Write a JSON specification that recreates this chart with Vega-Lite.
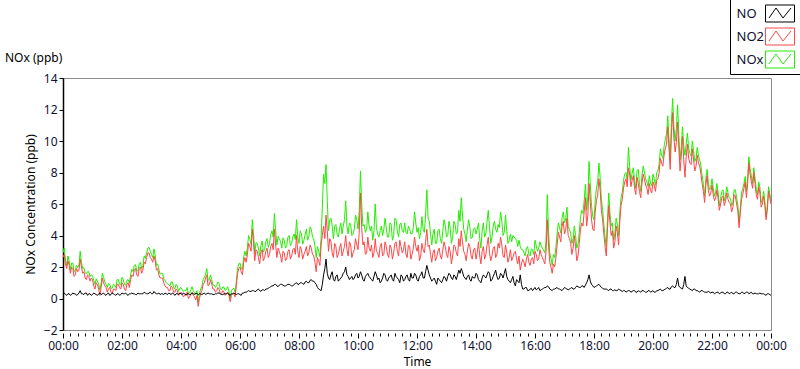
{
  "$schema": "https://vega.github.io/schema/vega-lite/v6.json",
  "width": 708,
  "height": 252,
  "autosize": "none",
  "padding": {"left": 63, "top": 78, "right": 29, "bottom": 39},
  "background": "white",
  "config": {"view": {"stroke": "#8c8c8c"}, "font": "Noto Sans"},
  "title": {"text": "NOx (ppb)", "anchor": "start", "frame": "group", "dx": -58, "offset": -66, "fontSize": 12, "fontWeight": "normal", "color": "#000000", "font": "Noto Sans"},
  "data": {"values": [
    {"m":0,"NO":0.3,"NO2":2.6,"NOx":2.9},{"m":5,"NO":0.25,"NO2":2.2,"NOx":2.45},{"m":10,"NO":0.3,"NO2":2.4,"NOx":2.7},{"m":15,"NO":0.2,"NO2":1.6,"NOx":1.8},
    {"m":20,"NO":0.35,"NO2":1.9,"NOx":2.25},{"m":25,"NO":0.3,"NO2":1.5,"NOx":1.8},{"m":30,"NO":0.25,"NO2":1.7,"NOx":1.95},{"m":35,"NO":0.5,"NO2":2.5,"NOx":3.0},
    {"m":40,"NO":0.3,"NO2":1.6,"NOx":1.9},{"m":45,"NO":0.35,"NO2":1.3,"NOx":1.65},{"m":50,"NO":0.2,"NO2":1.5,"NOx":1.7},{"m":55,"NO":0.3,"NO2":1.1,"NOx":1.4},
    {"m":60,"NO":0.25,"NO2":1.2,"NOx":1.45},{"m":65,"NO":0.3,"NO2":0.6,"NOx":0.9},{"m":70,"NO":0.2,"NO2":0.9,"NOx":1.1},{"m":75,"NO":0.35,"NO2":0.2,"NOx":0.55},
    {"m":80,"NO":0.3,"NO2":1.3,"NOx":1.6},{"m":85,"NO":0.25,"NO2":0.8,"NOx":1.05},{"m":90,"NO":0.3,"NO2":0.4,"NOx":0.7},{"m":95,"NO":0.2,"NO2":0.7,"NOx":0.9},
    {"m":100,"NO":0.35,"NO2":0.3,"NOx":0.65},{"m":105,"NO":0.25,"NO2":0.6,"NOx":0.85},{"m":110,"NO":0.3,"NO2":0.9,"NOx":1.2},{"m":115,"NO":0.2,"NO2":0.7,"NOx":0.9},
    {"m":120,"NO":0.35,"NO2":1.0,"NOx":1.35},{"m":125,"NO":0.3,"NO2":0.6,"NOx":0.9},{"m":130,"NO":0.25,"NO2":0.9,"NOx":1.15},{"m":135,"NO":0.3,"NO2":0.7,"NOx":1.0},
    {"m":140,"NO":0.35,"NO2":1.5,"NOx":1.85},{"m":145,"NO":0.3,"NO2":1.8,"NOx":2.1},{"m":150,"NO":0.25,"NO2":1.5,"NOx":1.75},{"m":155,"NO":0.3,"NO2":1.9,"NOx":2.2},
    {"m":160,"NO":0.3,"NO2":1.6,"NOx":1.9},{"m":165,"NO":0.4,"NO2":2.3,"NOx":2.7},{"m":170,"NO":0.3,"NO2":2.6,"NOx":2.9},{"m":175,"NO":0.35,"NO2":2.9,"NOx":3.25},
    {"m":180,"NO":0.3,"NO2":2.5,"NOx":2.8},{"m":185,"NO":0.45,"NO2":2.7,"NOx":3.15},{"m":190,"NO":0.3,"NO2":1.8,"NOx":2.1},{"m":195,"NO":0.35,"NO2":1.5,"NOx":1.85},
    {"m":200,"NO":0.3,"NO2":1.3,"NOx":1.6},{"m":205,"NO":0.25,"NO2":1.0,"NOx":1.25},{"m":210,"NO":0.3,"NO2":0.7,"NOx":1.0},{"m":215,"NO":0.35,"NO2":0.5,"NOx":0.85},
    {"m":220,"NO":0.25,"NO2":0.8,"NOx":1.05},{"m":225,"NO":0.3,"NO2":0.4,"NOx":0.7},{"m":230,"NO":0.3,"NO2":0.6,"NOx":0.9},{"m":235,"NO":0.25,"NO2":0.2,"NOx":0.45},
    {"m":240,"NO":0.3,"NO2":0.4,"NOx":0.7},{"m":245,"NO":0.35,"NO2":0.1,"NOx":0.45},{"m":250,"NO":0.2,"NO2":0.3,"NOx":0.5},{"m":255,"NO":0.3,"NO2":0.0,"NOx":0.3},
    {"m":260,"NO":0.25,"NO2":0.3,"NOx":0.55},{"m":265,"NO":0.3,"NO2":0.2,"NOx":0.5},{"m":270,"NO":0.35,"NO2":-0.1,"NOx":0.25},{"m":275,"NO":0.25,"NO2":-0.5,"NOx":-0.25},
    {"m":280,"NO":0.3,"NO2":0.3,"NOx":0.6},{"m":285,"NO":0.3,"NO2":0.9,"NOx":1.2},{"m":290,"NO":0.25,"NO2":1.3,"NOx":1.55},{"m":295,"NO":0.35,"NO2":0.8,"NOx":1.15},
    {"m":300,"NO":0.3,"NO2":1.2,"NOx":1.5},{"m":305,"NO":0.25,"NO2":0.6,"NOx":0.85},{"m":310,"NO":0.3,"NO2":0.4,"NOx":0.7},{"m":315,"NO":0.35,"NO2":0.7,"NOx":1.05},
    {"m":320,"NO":0.3,"NO2":0.3,"NOx":0.6},{"m":325,"NO":0.25,"NO2":0.5,"NOx":0.75},{"m":330,"NO":0.3,"NO2":0.2,"NOx":0.5},{"m":335,"NO":0.35,"NO2":0.4,"NOx":0.75},
    {"m":340,"NO":0.2,"NO2":-0.2,"NOx":0.0},{"m":345,"NO":0.3,"NO2":0.3,"NOx":0.6},{"m":350,"NO":0.3,"NO2":0.1,"NOx":0.4},{"m":355,"NO":0.3,"NO2":1.6,"NOx":1.9},
    {"m":360,"NO":0.25,"NO2":2.0,"NOx":2.25},{"m":365,"NO":0.35,"NO2":1.5,"NOx":1.85},{"m":370,"NO":0.4,"NO2":2.6,"NOx":3.0},{"m":375,"NO":0.45,"NO2":2.8,"NOx":3.25},
    {"m":380,"NO":0.45,"NO2":3.3,"NOx":3.75},{"m":385,"NO":0.5,"NO2":4.4,"NOx":5.0},{"m":390,"NO":0.45,"NO2":2.4,"NOx":2.85},{"m":395,"NO":0.55,"NO2":3.0,"NOx":3.5},
    {"m":400,"NO":0.5,"NO2":2.2,"NOx":2.7},{"m":405,"NO":0.55,"NO2":3.1,"NOx":3.65},{"m":410,"NO":0.5,"NO2":2.6,"NOx":3.1},{"m":415,"NO":0.6,"NO2":3.2,"NOx":3.8},
    {"m":420,"NO":0.7,"NO2":2.8,"NOx":3.5},{"m":425,"NO":0.8,"NO2":3.5,"NOx":4.3},{"m":430,"NO":0.9,"NO2":4.4,"NOx":5.4},{"m":435,"NO":0.8,"NO2":2.6,"NOx":3.4},
    {"m":440,"NO":0.85,"NO2":3.0,"NOx":3.8},{"m":445,"NO":0.9,"NO2":2.3,"NOx":3.2},{"m":450,"NO":0.8,"NO2":2.9,"NOx":3.7},{"m":455,"NO":0.85,"NO2":2.5,"NOx":3.35},
    {"m":460,"NO":0.9,"NO2":3.1,"NOx":4.0},{"m":465,"NO":0.8,"NO2":2.7,"NOx":3.5},{"m":470,"NO":0.9,"NO2":3.2,"NOx":4.1},{"m":475,"NO":1.0,"NO2":4.0,"NOx":5.0},
    {"m":480,"NO":0.9,"NO2":2.6,"NOx":3.5},{"m":485,"NO":1.0,"NO2":3.1,"NOx":4.1},{"m":490,"NO":0.9,"NO2":2.8,"NOx":3.7},{"m":495,"NO":1.1,"NO2":3.3,"NOx":4.4},
    {"m":500,"NO":1.0,"NO2":2.9,"NOx":3.9},{"m":505,"NO":1.2,"NO2":3.2,"NOx":4.4},{"m":510,"NO":1.1,"NO2":2.7,"NOx":3.8},{"m":515,"NO":0.9,"NO2":1.7,"NOx":2.6},
    {"m":520,"NO":0.6,"NO2":2.4,"NOx":3.0},{"m":525,"NO":0.5,"NO2":3.4,"NOx":3.9},{"m":530,"NO":1.5,"NO2":4.6,"NOx":7.9},{"m":535,"NO":2.5,"NO2":5.3,"NOx":8.5},
    {"m":540,"NO":1.3,"NO2":3.0,"NOx":4.3},{"m":545,"NO":1.5,"NO2":3.6,"NOx":5.1},{"m":550,"NO":1.2,"NO2":2.6,"NOx":3.8},{"m":555,"NO":1.4,"NO2":3.3,"NOx":4.7},
    {"m":560,"NO":1.1,"NO2":2.8,"NOx":3.9},{"m":565,"NO":1.3,"NO2":3.5,"NOx":4.8},{"m":570,"NO":1.6,"NO2":3.0,"NOx":4.6},{"m":575,"NO":2.0,"NO2":4.0,"NOx":6.2},
    {"m":580,"NO":1.4,"NO2":2.7,"NOx":4.1},{"m":585,"NO":1.3,"NO2":3.4,"NOx":4.7},{"m":590,"NO":1.2,"NO2":2.9,"NOx":4.1},{"m":595,"NO":1.5,"NO2":3.8,"NOx":5.3},
    {"m":600,"NO":1.3,"NO2":3.1,"NOx":4.4},{"m":605,"NO":1.7,"NO2":6.7,"NOx":8.1},{"m":610,"NO":1.2,"NO2":3.4,"NOx":4.6},{"m":615,"NO":1.4,"NO2":2.8,"NOx":4.2},
    {"m":620,"NO":1.6,"NO2":3.9,"NOx":5.5},{"m":625,"NO":1.3,"NO2":3.0,"NOx":4.3},{"m":630,"NO":1.1,"NO2":2.6,"NOx":3.7},{"m":635,"NO":1.7,"NO2":3.8,"NOx":6.0},
    {"m":640,"NO":1.2,"NO2":2.9,"NOx":4.1},{"m":645,"NO":1.0,"NO2":3.3,"NOx":4.3},{"m":650,"NO":1.3,"NO2":2.7,"NOx":4.0},{"m":655,"NO":1.5,"NO2":3.6,"NOx":5.1},
    {"m":660,"NO":1.1,"NO2":2.8,"NOx":3.9},{"m":665,"NO":1.4,"NO2":3.4,"NOx":4.8},{"m":670,"NO":1.2,"NO2":2.5,"NOx":3.7},{"m":675,"NO":1.6,"NO2":3.5,"NOx":5.1},
    {"m":680,"NO":1.3,"NO2":3.0,"NOx":4.3},{"m":685,"NO":1.0,"NO2":3.7,"NOx":4.7},{"m":690,"NO":1.4,"NO2":2.9,"NOx":4.3},{"m":695,"NO":1.2,"NO2":3.6,"NOx":4.8},
    {"m":700,"NO":1.5,"NO2":2.6,"NOx":4.1},{"m":705,"NO":1.1,"NO2":3.3,"NOx":4.4},{"m":710,"NO":1.3,"NO2":2.8,"NOx":4.1},{"m":715,"NO":1.6,"NO2":3.9,"NOx":5.5},
    {"m":720,"NO":1.2,"NO2":3.0,"NOx":4.2},{"m":725,"NO":1.4,"NO2":2.4,"NOx":3.8},{"m":730,"NO":1.7,"NO2":3.5,"NOx":5.2},{"m":735,"NO":1.3,"NO2":2.9,"NOx":4.2},
    {"m":740,"NO":2.1,"NO2":4.4,"NOx":6.9},{"m":745,"NO":1.5,"NO2":3.4,"NOx":4.9},{"m":750,"NO":1.1,"NO2":2.3,"NOx":3.4},{"m":755,"NO":1.3,"NO2":3.1,"NOx":4.4},
    {"m":760,"NO":0.9,"NO2":2.6,"NOx":3.5},{"m":765,"NO":1.2,"NO2":3.2,"NOx":4.4},{"m":770,"NO":1.0,"NO2":2.5,"NOx":3.5},{"m":775,"NO":1.4,"NO2":3.6,"NOx":5.0},
    {"m":780,"NO":1.1,"NO2":2.8,"NOx":3.9},{"m":785,"NO":1.6,"NO2":3.3,"NOx":4.9},{"m":790,"NO":1.3,"NO2":2.2,"NOx":3.5},{"m":795,"NO":1.5,"NO2":3.4,"NOx":4.9},
    {"m":800,"NO":1.2,"NO2":2.9,"NOx":4.1},{"m":805,"NO":1.8,"NO2":3.8,"NOx":5.6},{"m":810,"NO":1.9,"NO2":4.3,"NOx":6.4},{"m":815,"NO":1.4,"NO2":3.0,"NOx":4.4},
    {"m":820,"NO":1.2,"NO2":2.4,"NOx":3.6},{"m":825,"NO":1.5,"NO2":3.5,"NOx":5.0},{"m":830,"NO":1.1,"NO2":2.7,"NOx":3.8},{"m":835,"NO":1.3,"NO2":3.1,"NOx":4.4},
    {"m":840,"NO":1.6,"NO2":2.5,"NOx":4.1},{"m":845,"NO":1.2,"NO2":3.6,"NOx":4.8},{"m":850,"NO":1.0,"NO2":2.2,"NOx":3.2},{"m":855,"NO":1.5,"NO2":3.3,"NOx":4.8},
    {"m":860,"NO":1.3,"NO2":2.8,"NOx":4.1},{"m":865,"NO":1.7,"NO2":3.9,"NOx":5.6},{"m":870,"NO":1.1,"NO2":2.4,"NOx":3.5},{"m":875,"NO":1.4,"NO2":3.2,"NOx":4.6},
    {"m":880,"NO":1.8,"NO2":2.6,"NOx":4.4},{"m":885,"NO":1.2,"NO2":3.5,"NOx":4.7},{"m":890,"NO":1.6,"NO2":3.9,"NOx":5.5},{"m":895,"NO":1.3,"NO2":2.7,"NOx":4.0},
    {"m":900,"NO":1.9,"NO2":3.4,"NOx":5.3},{"m":905,"NO":1.2,"NO2":2.3,"NOx":3.5},{"m":910,"NO":1.0,"NO2":3.1,"NOx":4.1},{"m":915,"NO":1.4,"NO2":2.6,"NOx":4.0},
    {"m":920,"NO":0.8,"NO2":3.0,"NOx":3.8},{"m":925,"NO":1.1,"NO2":2.2,"NOx":3.3},{"m":930,"NO":1.5,"NO2":1.8,"NOx":3.3},{"m":935,"NO":0.6,"NO2":2.5,"NOx":3.1},
    {"m":940,"NO":0.7,"NO2":2.0,"NOx":2.7},{"m":945,"NO":0.5,"NO2":2.8,"NOx":3.3},{"m":950,"NO":0.6,"NO2":2.1,"NOx":2.7},{"m":955,"NO":0.5,"NO2":2.6,"NOx":3.1},
    {"m":960,"NO":0.7,"NO2":3.0,"NOx":3.7},{"m":965,"NO":0.6,"NO2":2.4,"NOx":3.0},{"m":970,"NO":0.5,"NO2":3.1,"NOx":3.6},{"m":975,"NO":0.6,"NO2":2.6,"NOx":3.2},
    {"m":980,"NO":0.7,"NO2":2.2,"NOx":2.9},{"m":985,"NO":0.8,"NO2":5.0,"NOx":6.6},{"m":990,"NO":0.6,"NO2":2.3,"NOx":2.9},{"m":995,"NO":0.5,"NO2":1.6,"NOx":2.1},
    {"m":1000,"NO":0.6,"NO2":2.0,"NOx":2.6},{"m":1005,"NO":0.7,"NO2":3.4,"NOx":4.1},{"m":1010,"NO":0.6,"NO2":3.9,"NOx":4.5},{"m":1015,"NO":0.5,"NO2":4.6,"NOx":5.1},
    {"m":1020,"NO":0.7,"NO2":4.1,"NOx":4.8},{"m":1025,"NO":0.6,"NO2":5.1,"NOx":5.8},{"m":1030,"NO":0.6,"NO2":3.8,"NOx":4.4},{"m":1035,"NO":0.7,"NO2":2.8,"NOx":3.5},
    {"m":1040,"NO":0.6,"NO2":4.0,"NOx":4.6},{"m":1045,"NO":0.8,"NO2":2.4,"NOx":3.2},{"m":1050,"NO":0.7,"NO2":3.5,"NOx":4.2},{"m":1055,"NO":0.8,"NO2":4.8,"NOx":5.6},
    {"m":1060,"NO":0.7,"NO2":5.5,"NOx":6.2},{"m":1065,"NO":1.0,"NO2":4.6,"NOx":5.6},{"m":1070,"NO":1.5,"NO2":7.3,"NOx":8.7},{"m":1075,"NO":0.9,"NO2":5.0,"NOx":5.9},
    {"m":1080,"NO":0.7,"NO2":4.3,"NOx":5.0},{"m":1085,"NO":0.8,"NO2":6.2,"NOx":7.0},{"m":1090,"NO":0.9,"NO2":7.6,"NOx":8.6},{"m":1095,"NO":0.7,"NO2":5.6,"NOx":6.3},
    {"m":1100,"NO":0.6,"NO2":4.1,"NOx":4.7},{"m":1105,"NO":0.6,"NO2":2.7,"NOx":3.3},{"m":1110,"NO":0.5,"NO2":5.9,"NOx":6.7},{"m":1115,"NO":0.6,"NO2":4.0,"NOx":4.6},
    {"m":1120,"NO":0.5,"NO2":3.2,"NOx":3.7},{"m":1125,"NO":0.5,"NO2":4.6,"NOx":5.1},{"m":1130,"NO":0.6,"NO2":3.4,"NOx":4.0},{"m":1135,"NO":0.5,"NO2":5.9,"NOx":6.4},
    {"m":1140,"NO":0.5,"NO2":7.0,"NOx":7.5},{"m":1145,"NO":0.4,"NO2":7.6,"NOx":8.0},{"m":1150,"NO":0.5,"NO2":8.3,"NOx":9.6},{"m":1155,"NO":0.4,"NO2":7.1,"NOx":7.5},
    {"m":1160,"NO":0.5,"NO2":7.8,"NOx":8.3},{"m":1165,"NO":0.4,"NO2":6.6,"NOx":7.0},{"m":1170,"NO":0.5,"NO2":7.3,"NOx":8.2},{"m":1175,"NO":0.4,"NO2":6.4,"NOx":6.8},
    {"m":1180,"NO":0.5,"NO2":7.9,"NOx":8.4},{"m":1185,"NO":0.4,"NO2":7.2,"NOx":7.6},{"m":1190,"NO":0.5,"NO2":6.6,"NOx":7.1},{"m":1195,"NO":0.4,"NO2":6.9,"NOx":7.3},
    {"m":1200,"NO":0.5,"NO2":7.4,"NOx":7.9},{"m":1205,"NO":0.4,"NO2":6.8,"NOx":7.2},{"m":1210,"NO":0.5,"NO2":7.6,"NOx":8.1},{"m":1215,"NO":0.6,"NO2":8.9,"NOx":9.5},
    {"m":1220,"NO":0.5,"NO2":8.4,"NOx":8.9},{"m":1225,"NO":0.6,"NO2":9.5,"NOx":10.1},{"m":1230,"NO":0.7,"NO2":10.9,"NOx":11.6},{"m":1235,"NO":0.6,"NO2":8.2,"NOx":8.8},
    {"m":1240,"NO":0.8,"NO2":11.8,"NOx":12.7},{"m":1245,"NO":0.7,"NO2":9.3,"NOx":10.0},{"m":1250,"NO":1.3,"NO2":11.2,"NOx":12.3},{"m":1255,"NO":0.7,"NO2":8.1,"NOx":8.8},
    {"m":1260,"NO":0.6,"NO2":10.3,"NOx":10.9},{"m":1265,"NO":1.4,"NO2":7.7,"NOx":9.1},{"m":1270,"NO":0.7,"NO2":9.8,"NOx":10.5},{"m":1275,"NO":0.6,"NO2":8.6,"NOx":9.2},
    {"m":1280,"NO":0.5,"NO2":9.5,"NOx":10.0},{"m":1285,"NO":0.6,"NO2":8.1,"NOx":8.7},{"m":1290,"NO":0.5,"NO2":9.1,"NOx":9.6},{"m":1295,"NO":0.4,"NO2":8.4,"NOx":8.8},
    {"m":1300,"NO":0.5,"NO2":7.3,"NOx":7.8},{"m":1305,"NO":0.4,"NO2":6.1,"NOx":6.5},{"m":1310,"NO":0.4,"NO2":7.8,"NOx":8.2},{"m":1315,"NO":0.4,"NO2":6.5,"NOx":6.9},
    {"m":1320,"NO":0.4,"NO2":7.2,"NOx":7.6},{"m":1325,"NO":0.3,"NO2":6.2,"NOx":6.5},{"m":1330,"NO":0.4,"NO2":6.9,"NOx":7.3},{"m":1335,"NO":0.3,"NO2":5.6,"NOx":5.9},
    {"m":1340,"NO":0.4,"NO2":6.4,"NOx":6.8},{"m":1345,"NO":0.3,"NO2":5.9,"NOx":6.2},{"m":1350,"NO":0.4,"NO2":6.7,"NOx":7.1},{"m":1355,"NO":0.3,"NO2":6.1,"NOx":6.4},
    {"m":1360,"NO":0.4,"NO2":5.5,"NOx":5.9},{"m":1365,"NO":0.3,"NO2":6.6,"NOx":6.9},{"m":1370,"NO":0.4,"NO2":6.0,"NOx":6.4},{"m":1375,"NO":0.3,"NO2":4.5,"NOx":4.8},
    {"m":1380,"NO":0.4,"NO2":6.3,"NOx":6.7},{"m":1385,"NO":0.3,"NO2":7.0,"NOx":7.3},{"m":1390,"NO":0.4,"NO2":6.4,"NOx":6.8},{"m":1395,"NO":0.3,"NO2":8.6,"NOx":9.0},
    {"m":1400,"NO":0.4,"NO2":7.4,"NOx":7.8},{"m":1405,"NO":0.3,"NO2":8.0,"NOx":8.3},{"m":1410,"NO":0.3,"NO2":6.6,"NOx":6.9},{"m":1415,"NO":0.3,"NO2":7.1,"NOx":7.4},
    {"m":1420,"NO":0.3,"NO2":5.8,"NOx":6.1},{"m":1425,"NO":0.3,"NO2":6.5,"NOx":6.8},{"m":1430,"NO":0.2,"NO2":5.0,"NOx":5.2},{"m":1435,"NO":0.3,"NO2":6.8,"NOx":7.1},
    {"m":1440,"NO":0.2,"NO2":6.0,"NOx":6.2},
    {"m":2.5,"NO":0.35,"NO2":2.8,"NOx":3.2},{"m":7.5,"NO":0.2,"NO2":1.9,"NOx":2.1},{"m":12.5,"NO":0.3,"NO2":2.1,"NOx":2.4},{"m":17.5,"NO":0.25,"NO2":2.0,"NOx":2.25},
    {"m":22.5,"NO":0.3,"NO2":1.4,"NOx":1.7},{"m":27.5,"NO":0.2,"NO2":1.9,"NOx":2.1},{"m":32.5,"NO":0.35,"NO2":1.8,"NOx":2.15},{"m":37.5,"NO":0.3,"NO2":2.0,"NOx":2.3},
    {"m":42.5,"NO":0.25,"NO2":1.7,"NOx":1.95},{"m":47.5,"NO":0.35,"NO2":1.2,"NOx":1.55},{"m":52.5,"NO":0.3,"NO2":1.4,"NOx":1.7},{"m":57.5,"NO":0.2,"NO2":1.3,"NOx":1.5},
    {"m":62.5,"NO":0.35,"NO2":0.8,"NOx":1.15},{"m":67.5,"NO":0.25,"NO2":1.0,"NOx":1.25},{"m":72.5,"NO":0.3,"NO2":0.6,"NOx":0.9},{"m":77.5,"NO":0.25,"NO2":0.7,"NOx":0.95},
    {"m":82.5,"NO":0.35,"NO2":1.0,"NOx":1.35},{"m":87.5,"NO":0.2,"NO2":0.7,"NOx":0.9},{"m":92.5,"NO":0.35,"NO2":0.6,"NOx":0.95},{"m":97.5,"NO":0.25,"NO2":0.4,"NOx":0.65},
    {"m":102.5,"NO":0.3,"NO2":0.6,"NOx":0.9},{"m":107.5,"NO":0.2,"NO2":0.5,"NOx":0.7},{"m":112.5,"NO":0.3,"NO2":0.9,"NOx":1.2},{"m":117.5,"NO":0.25,"NO2":0.6,"NOx":0.85},
    {"m":122.5,"NO":0.3,"NO2":0.9,"NOx":1.2},{"m":127.5,"NO":0.35,"NO2":0.5,"NOx":0.85},{"m":132.5,"NO":0.2,"NO2":1.0,"NOx":1.2},{"m":137.5,"NO":0.3,"NO2":1.2,"NOx":1.5},
    {"m":142.5,"NO":0.3,"NO2":1.4,"NOx":1.7},{"m":147.5,"NO":0.25,"NO2":1.9,"NOx":2.15},{"m":152.5,"NO":0.35,"NO2":1.4,"NOx":1.75},{"m":157.5,"NO":0.3,"NO2":2.0,"NOx":2.3},
    {"m":162.5,"NO":0.3,"NO2":1.8,"NOx":2.1},{"m":167.5,"NO":0.35,"NO2":2.2,"NOx":2.55},{"m":172.5,"NO":0.3,"NO2":2.9,"NOx":3.2},{"m":177.5,"NO":0.4,"NO2":2.6,"NOx":3.0},
    {"m":182.5,"NO":0.3,"NO2":2.3,"NOx":2.6},{"m":187.5,"NO":0.35,"NO2":2.4,"NOx":2.75},{"m":192.5,"NO":0.3,"NO2":1.9,"NOx":2.2},{"m":197.5,"NO":0.25,"NO2":1.3,"NOx":1.55},
    {"m":202.5,"NO":0.3,"NO2":1.3,"NOx":1.6},{"m":207.5,"NO":0.35,"NO2":0.8,"NOx":1.15},{"m":212.5,"NO":0.25,"NO2":0.7,"NOx":0.95},{"m":217.5,"NO":0.3,"NO2":0.5,"NOx":0.8},
    {"m":222.5,"NO":0.35,"NO2":0.7,"NOx":1.05},{"m":227.5,"NO":0.2,"NO2":0.4,"NOx":0.6},{"m":232.5,"NO":0.3,"NO2":0.5,"NOx":0.8},{"m":237.5,"NO":0.35,"NO2":0.3,"NOx":0.65},
    {"m":242.5,"NO":0.25,"NO2":0.3,"NOx":0.55},{"m":247.5,"NO":0.3,"NO2":0.2,"NOx":0.5},{"m":252.5,"NO":0.3,"NO2":0.4,"NOx":0.7},{"m":257.5,"NO":0.25,"NO2":0.1,"NOx":0.35},
    {"m":262.5,"NO":0.35,"NO2":0.4,"NOx":0.75},{"m":267.5,"NO":0.25,"NO2":0.1,"NOx":0.35},{"m":272.5,"NO":0.3,"NO2":0.2,"NOx":0.5},{"m":277.5,"NO":0.3,"NO2":0.0,"NOx":0.3},
    {"m":282.5,"NO":0.25,"NO2":0.5,"NOx":0.75},{"m":287.5,"NO":0.35,"NO2":1.0,"NOx":1.35},{"m":292.5,"NO":0.3,"NO2":1.5,"NOx":1.9},{"m":297.5,"NO":0.3,"NO2":0.9,"NOx":1.2},
    {"m":302.5,"NO":0.3,"NO2":0.9,"NOx":1.2},{"m":307.5,"NO":0.25,"NO2":0.6,"NOx":0.85},{"m":312.5,"NO":0.3,"NO2":0.5,"NOx":0.8},{"m":317.5,"NO":0.35,"NO2":0.6,"NOx":0.95},
    {"m":322.5,"NO":0.25,"NO2":0.3,"NOx":0.55},{"m":327.5,"NO":0.3,"NO2":0.4,"NOx":0.7},{"m":332.5,"NO":0.3,"NO2":0.3,"NOx":0.6},{"m":337.5,"NO":0.25,"NO2":0.2,"NOx":0.45},
    {"m":342.5,"NO":0.3,"NO2":0.2,"NOx":0.5},{"m":347.5,"NO":0.35,"NO2":0.3,"NOx":0.65},{"m":352.5,"NO":0.25,"NO2":0.8,"NOx":1.05},{"m":357.5,"NO":0.3,"NO2":1.9,"NOx":2.2},
    {"m":362.5,"NO":0.2,"NO2":1.7,"NOx":1.9},{"m":367.5,"NO":0.35,"NO2":2.3,"NOx":2.65},{"m":372.5,"NO":0.4,"NO2":2.3,"NOx":2.7},{"m":377.5,"NO":0.5,"NO2":3.5,"NOx":4.0},
    {"m":382.5,"NO":0.45,"NO2":3.0,"NOx":3.45},{"m":387.5,"NO":0.5,"NO2":3.6,"NOx":4.1},{"m":392.5,"NO":0.45,"NO2":3.1,"NOx":3.55},{"m":397.5,"NO":0.6,"NO2":2.6,"NOx":3.2},
    {"m":402.5,"NO":0.45,"NO2":2.9,"NOx":3.35},{"m":407.5,"NO":0.55,"NO2":2.4,"NOx":2.95},{"m":412.5,"NO":0.6,"NO2":3.0,"NOx":3.6},{"m":417.5,"NO":0.65,"NO2":2.6,"NOx":3.25},
    {"m":422.5,"NO":0.75,"NO2":3.3,"NOx":4.05},{"m":427.5,"NO":0.8,"NO2":3.1,"NOx":3.9},{"m":432.5,"NO":0.9,"NO2":3.4,"NOx":4.3},{"m":437.5,"NO":0.75,"NO2":3.2,"NOx":3.95},
    {"m":442.5,"NO":0.9,"NO2":2.7,"NOx":3.6},{"m":447.5,"NO":0.85,"NO2":3.0,"NOx":3.85},{"m":452.5,"NO":0.8,"NO2":2.4,"NOx":3.2},{"m":457.5,"NO":0.9,"NO2":3.0,"NOx":3.9},
    {"m":462.5,"NO":0.85,"NO2":2.5,"NOx":3.35},{"m":467.5,"NO":0.8,"NO2":3.1,"NOx":3.9},{"m":472.5,"NO":0.95,"NO2":2.8,"NOx":3.75},{"m":477.5,"NO":0.9,"NO2":3.0,"NOx":3.9},
    {"m":482.5,"NO":1.0,"NO2":3.3,"NOx":4.3},{"m":487.5,"NO":0.95,"NO2":2.5,"NOx":3.45},{"m":492.5,"NO":1.05,"NO2":3.0,"NOx":4.05},{"m":497.5,"NO":1.0,"NO2":2.7,"NOx":3.7},
    {"m":502.5,"NO":1.15,"NO2":3.4,"NOx":4.55},{"m":507.5,"NO":1.1,"NO2":2.8,"NOx":3.9},{"m":512.5,"NO":1.0,"NO2":2.3,"NOx":3.3},{"m":517.5,"NO":0.7,"NO2":2.6,"NOx":3.3},
    {"m":522.5,"NO":0.55,"NO2":2.1,"NOx":2.65},{"m":527.5,"NO":0.9,"NO2":4.0,"NOx":5.8},{"m":532.5,"NO":1.9,"NO2":3.8,"NOx":7.3},{"m":537.5,"NO":1.6,"NO2":4.3,"NOx":6.2},
    {"m":542.5,"NO":1.2,"NO2":3.8,"NOx":5.0},{"m":547.5,"NO":1.7,"NO2":2.9,"NOx":4.6},{"m":552.5,"NO":1.1,"NO2":3.5,"NOx":4.6},{"m":557.5,"NO":1.5,"NO2":2.6,"NOx":4.1},
    {"m":562.5,"NO":1.2,"NO2":3.2,"NOx":4.4},{"m":567.5,"NO":1.4,"NO2":2.7,"NOx":4.1},{"m":572.5,"NO":1.7,"NO2":3.3,"NOx":5.0},{"m":577.5,"NO":1.5,"NO2":3.1,"NOx":4.6},
    {"m":582.5,"NO":1.2,"NO2":3.6,"NOx":4.8},{"m":587.5,"NO":1.4,"NO2":2.6,"NOx":4.0},{"m":592.5,"NO":1.3,"NO2":3.1,"NOx":4.4},{"m":597.5,"NO":1.6,"NO2":3.4,"NOx":5.0},
    {"m":602.5,"NO":1.4,"NO2":4.2,"NOx":5.6},{"m":607.5,"NO":1.5,"NO2":4.5,"NOx":6.0},{"m":612.5,"NO":1.1,"NO2":3.6,"NOx":4.7},{"m":617.5,"NO":1.5,"NO2":2.9,"NOx":4.4},
    {"m":622.5,"NO":1.4,"NO2":3.2,"NOx":4.6},{"m":627.5,"NO":1.2,"NO2":3.4,"NOx":4.6},{"m":632.5,"NO":1.4,"NO2":2.9,"NOx":4.3},{"m":637.5,"NO":1.5,"NO2":3.0,"NOx":4.5},
    {"m":642.5,"NO":1.3,"NO2":2.6,"NOx":3.9},{"m":647.5,"NO":1.1,"NO2":3.5,"NOx":4.6},{"m":652.5,"NO":1.6,"NO2":2.8,"NOx":4.4},{"m":657.5,"NO":1.2,"NO2":3.3,"NOx":4.5},
    {"m":662.5,"NO":1.3,"NO2":2.6,"NOx":3.9},{"m":667.5,"NO":1.5,"NO2":3.2,"NOx":4.7},{"m":672.5,"NO":1.1,"NO2":2.9,"NOx":4.0},{"m":677.5,"NO":1.4,"NO2":3.6,"NOx":5.0},
    {"m":682.5,"NO":1.2,"NO2":2.7,"NOx":3.9},{"m":687.5,"NO":1.5,"NO2":3.3,"NOx":4.8},{"m":692.5,"NO":1.1,"NO2":3.1,"NOx":4.2},{"m":697.5,"NO":1.4,"NO2":2.8,"NOx":4.2},
    {"m":702.5,"NO":1.2,"NO2":3.4,"NOx":4.6},{"m":707.5,"NO":1.6,"NO2":2.5,"NOx":4.1},{"m":712.5,"NO":1.3,"NO2":3.2,"NOx":4.5},{"m":717.5,"NO":1.5,"NO2":3.3,"NOx":4.8},
    {"m":722.5,"NO":1.1,"NO2":3.4,"NOx":4.5},{"m":727.5,"NO":1.5,"NO2":2.7,"NOx":4.2},{"m":732.5,"NO":1.3,"NO2":3.1,"NOx":4.4},{"m":737.5,"NO":1.7,"NO2":3.6,"NOx":5.3},
    {"m":742.5,"NO":1.8,"NO2":3.3,"NOx":5.1},{"m":747.5,"NO":1.3,"NO2":2.8,"NOx":4.1},{"m":752.5,"NO":1.2,"NO2":2.9,"NOx":4.1},{"m":757.5,"NO":1.1,"NO2":2.4,"NOx":3.5},
    {"m":762.5,"NO":1.3,"NO2":3.0,"NOx":4.3},{"m":767.5,"NO":1.1,"NO2":2.7,"NOx":3.8},{"m":772.5,"NO":1.2,"NO2":3.1,"NOx":4.3},{"m":777.5,"NO":1.3,"NO2":3.3,"NOx":4.6},
    {"m":782.5,"NO":1.4,"NO2":2.6,"NOx":4.0},{"m":787.5,"NO":1.5,"NO2":3.0,"NOx":4.5},{"m":792.5,"NO":1.2,"NO2":2.7,"NOx":3.9},{"m":797.5,"NO":1.4,"NO2":3.3,"NOx":4.7},
    {"m":802.5,"NO":1.5,"NO2":2.7,"NOx":4.2},{"m":807.5,"NO":1.6,"NO2":3.3,"NOx":4.9},{"m":812.5,"NO":1.7,"NO2":3.6,"NOx":5.3},{"m":817.5,"NO":1.3,"NO2":2.8,"NOx":4.1},
    {"m":822.5,"NO":1.4,"NO2":3.0,"NOx":4.4},{"m":827.5,"NO":1.2,"NO2":3.3,"NOx":4.5},{"m":832.5,"NO":1.4,"NO2":2.5,"NOx":3.9},{"m":837.5,"NO":1.3,"NO2":3.2,"NOx":4.5},
    {"m":842.5,"NO":1.5,"NO2":2.9,"NOx":4.4},{"m":847.5,"NO":1.1,"NO2":2.7,"NOx":3.8},{"m":852.5,"NO":1.3,"NO2":3.0,"NOx":4.3},{"m":857.5,"NO":1.4,"NO2":2.5,"NOx":3.9},
    {"m":862.5,"NO":1.5,"NO2":3.4,"NOx":4.9},{"m":867.5,"NO":1.6,"NO2":2.9,"NOx":4.5},{"m":872.5,"NO":1.2,"NO2":2.7,"NOx":3.9},{"m":877.5,"NO":1.6,"NO2":3.3,"NOx":4.9},
    {"m":882.5,"NO":1.4,"NO2":2.8,"NOx":4.2},{"m":887.5,"NO":1.3,"NO2":3.2,"NOx":4.5},{"m":892.5,"NO":1.5,"NO2":3.4,"NOx":4.9},{"m":897.5,"NO":1.6,"NO2":2.6,"NOx":4.2},
    {"m":902.5,"NO":1.4,"NO2":2.9,"NOx":4.3},{"m":907.5,"NO":1.1,"NO2":2.6,"NOx":3.7},{"m":912.5,"NO":1.2,"NO2":2.4,"NOx":3.6},{"m":917.5,"NO":1.0,"NO2":2.9,"NOx":3.9},
    {"m":922.5,"NO":1.2,"NO2":2.5,"NOx":3.7},{"m":927.5,"NO":1.0,"NO2":2.7,"NOx":3.7},{"m":932.5,"NO":0.9,"NO2":2.2,"NOx":3.1},{"m":937.5,"NO":0.6,"NO2":2.3,"NOx":2.9},
    {"m":942.5,"NO":0.7,"NO2":2.5,"NOx":3.2},{"m":947.5,"NO":0.5,"NO2":2.3,"NOx":2.8},{"m":952.5,"NO":0.65,"NO2":2.5,"NOx":3.15},{"m":957.5,"NO":0.6,"NO2":2.2,"NOx":2.8},
    {"m":962.5,"NO":0.55,"NO2":2.8,"NOx":3.35},{"m":967.5,"NO":0.7,"NO2":2.5,"NOx":3.2},{"m":972.5,"NO":0.55,"NO2":2.8,"NOx":3.35},{"m":977.5,"NO":0.65,"NO2":2.4,"NOx":3.05},
    {"m":982.5,"NO":0.7,"NO2":3.0,"NOx":3.7},{"m":987.5,"NO":0.75,"NO2":3.4,"NOx":4.3},{"m":992.5,"NO":0.55,"NO2":2.0,"NOx":2.55},{"m":997.5,"NO":0.6,"NO2":2.2,"NOx":2.8},
    {"m":1002.5,"NO":0.65,"NO2":2.6,"NOx":3.25},{"m":1007.5,"NO":0.6,"NO2":4.2,"NOx":4.8},{"m":1012.5,"NO":0.55,"NO2":3.6,"NOx":4.15},{"m":1017.5,"NO":0.6,"NO2":4.9,"NOx":5.5},
    {"m":1022.5,"NO":0.65,"NO2":4.4,"NOx":5.05},{"m":1027.5,"NO":0.55,"NO2":4.0,"NOx":4.55},{"m":1032.5,"NO":0.65,"NO2":3.5,"NOx":4.15},{"m":1037.5,"NO":0.6,"NO2":3.2,"NOx":3.8},
    {"m":1042.5,"NO":0.7,"NO2":3.3,"NOx":4.0},{"m":1047.5,"NO":0.75,"NO2":2.7,"NOx":3.45},{"m":1052.5,"NO":0.7,"NO2":4.4,"NOx":5.1},{"m":1057.5,"NO":0.8,"NO2":4.6,"NOx":5.4},
    {"m":1062.5,"NO":0.85,"NO2":6.4,"NOx":7.25},{"m":1067.5,"NO":1.2,"NO2":5.3,"NOx":6.5},{"m":1072.5,"NO":1.1,"NO2":6.1,"NOx":7.2},{"m":1077.5,"NO":0.8,"NO2":4.4,"NOx":5.2},
    {"m":1082.5,"NO":0.75,"NO2":5.5,"NOx":6.25},{"m":1087.5,"NO":0.85,"NO2":6.6,"NOx":7.45},{"m":1092.5,"NO":0.8,"NO2":6.9,"NOx":7.7},{"m":1097.5,"NO":0.65,"NO2":5.0,"NOx":5.65},
    {"m":1102.5,"NO":0.6,"NO2":3.3,"NOx":3.9},{"m":1107.5,"NO":0.55,"NO2":4.5,"NOx":5.05},{"m":1112.5,"NO":0.6,"NO2":4.8,"NOx":5.4},{"m":1117.5,"NO":0.5,"NO2":4.3,"NOx":4.8},
    {"m":1122.5,"NO":0.55,"NO2":3.6,"NOx":4.15},{"m":1127.5,"NO":0.5,"NO2":4.2,"NOx":4.7},{"m":1132.5,"NO":0.55,"NO2":4.9,"NOx":5.45},{"m":1137.5,"NO":0.45,"NO2":6.3,"NOx":6.75},
    {"m":1142.5,"NO":0.5,"NO2":7.4,"NOx":7.9},{"m":1147.5,"NO":0.45,"NO2":7.1,"NOx":7.55},{"m":1152.5,"NO":0.5,"NO2":7.9,"NOx":8.4},{"m":1157.5,"NO":0.45,"NO2":7.5,"NOx":7.95},
    {"m":1162.5,"NO":0.5,"NO2":7.0,"NOx":7.5},{"m":1167.5,"NO":0.4,"NO2":7.7,"NOx":8.1},{"m":1172.5,"NO":0.45,"NO2":6.8,"NOx":7.25},{"m":1177.5,"NO":0.5,"NO2":7.3,"NOx":7.8},
    {"m":1182.5,"NO":0.45,"NO2":7.6,"NOx":8.05},{"m":1187.5,"NO":0.4,"NO2":7.0,"NOx":7.4},{"m":1192.5,"NO":0.5,"NO2":7.3,"NOx":7.8},{"m":1197.5,"NO":0.45,"NO2":6.7,"NOx":7.15},
    {"m":1202.5,"NO":0.4,"NO2":7.2,"NOx":7.6},{"m":1207.5,"NO":0.5,"NO2":7.5,"NOx":8.0},{"m":1212.5,"NO":0.55,"NO2":8.0,"NOx":8.55},{"m":1217.5,"NO":0.5,"NO2":8.6,"NOx":9.1},
    {"m":1222.5,"NO":0.55,"NO2":9.1,"NOx":9.65},{"m":1227.5,"NO":0.65,"NO2":9.8,"NOx":10.45},{"m":1232.5,"NO":0.6,"NO2":9.5,"NOx":10.1},{"m":1237.5,"NO":0.75,"NO2":10.5,"NOx":11.25},
    {"m":1242.5,"NO":0.7,"NO2":10.2,"NOx":10.9},{"m":1247.5,"NO":0.9,"NO2":9.9,"NOx":10.8},{"m":1252.5,"NO":0.8,"NO2":9.6,"NOx":10.4},{"m":1257.5,"NO":0.65,"NO2":9.0,"NOx":9.65},
    {"m":1262.5,"NO":0.9,"NO2":8.8,"NOx":9.7},{"m":1267.5,"NO":0.8,"NO2":9.0,"NOx":9.8},{"m":1272.5,"NO":0.65,"NO2":8.9,"NOx":9.55},{"m":1277.5,"NO":0.55,"NO2":8.5,"NOx":9.05},
    {"m":1282.5,"NO":0.6,"NO2":8.8,"NOx":9.4},{"m":1287.5,"NO":0.5,"NO2":8.4,"NOx":8.9},{"m":1292.5,"NO":0.45,"NO2":8.6,"NOx":9.05},{"m":1297.5,"NO":0.5,"NO2":7.9,"NOx":8.4},
    {"m":1302.5,"NO":0.45,"NO2":6.8,"NOx":7.25},{"m":1307.5,"NO":0.4,"NO2":7.2,"NOx":7.6},{"m":1312.5,"NO":0.45,"NO2":6.9,"NOx":7.35},{"m":1317.5,"NO":0.35,"NO2":6.7,"NOx":7.05},
    {"m":1322.5,"NO":0.4,"NO2":6.6,"NOx":7.0},{"m":1327.5,"NO":0.35,"NO2":6.4,"NOx":6.75},{"m":1332.5,"NO":0.4,"NO2":6.3,"NOx":6.7},{"m":1337.5,"NO":0.35,"NO2":6.0,"NOx":6.35},
    {"m":1342.5,"NO":0.4,"NO2":6.5,"NOx":6.9},{"m":1347.5,"NO":0.3,"NO2":6.2,"NOx":6.5},{"m":1352.5,"NO":0.4,"NO2":6.3,"NOx":6.7},{"m":1357.5,"NO":0.35,"NO2":6.0,"NOx":6.35},
    {"m":1362.5,"NO":0.3,"NO2":5.8,"NOx":6.1},{"m":1367.5,"NO":0.4,"NO2":6.5,"NOx":6.9},{"m":1372.5,"NO":0.35,"NO2":5.6,"NOx":5.95},{"m":1377.5,"NO":0.3,"NO2":5.4,"NOx":5.7},
    {"m":1382.5,"NO":0.4,"NO2":6.6,"NOx":7.0},{"m":1387.5,"NO":0.35,"NO2":7.4,"NOx":7.75},{"m":1392.5,"NO":0.4,"NO2":7.3,"NOx":7.7},{"m":1397.5,"NO":0.35,"NO2":7.9,"NOx":8.25},
    {"m":1402.5,"NO":0.3,"NO2":7.0,"NOx":7.3},{"m":1407.5,"NO":0.35,"NO2":7.3,"NOx":7.65},{"m":1412.5,"NO":0.3,"NO2":6.3,"NOx":6.6},{"m":1417.5,"NO":0.35,"NO2":6.7,"NOx":7.05},
    {"m":1422.5,"NO":0.3,"NO2":6.0,"NOx":6.3},{"m":1427.5,"NO":0.25,"NO2":5.9,"NOx":6.15},{"m":1432.5,"NO":0.3,"NO2":5.6,"NOx":5.9},{"m":1437.5,"NO":0.25,"NO2":6.4,"NOx":6.65}
  ]},
  "transform": [{"fold": ["NOx", "NO2", "NO"], "as": ["series", "value"]}],
  "mark": {"type": "line", "strokeWidth": 1, "clip": true},
  "encoding": {
    "x": {
      "field": "m", "type": "quantitative",
      "scale": {"domain": [0, 1440], "nice": false, "zero": false},
      "axis": {
        "values": [0,15,30,45,60,75,90,105,120,135,150,165,180,195,210,225,240,255,270,285,300,315,330,345,360,375,390,405,420,435,450,465,480,495,510,525,540,555,570,585,600,615,630,645,660,675,690,705,720,735,750,765,780,795,810,825,840,855,870,885,900,915,930,945,960,975,990,1005,1020,1035,1050,1065,1080,1095,1110,1125,1140,1155,1170,1185,1200,1215,1230,1245,1260,1275,1290,1305,1320,1335,1350,1365,1380,1395,1410,1425,1440],
        "labelExpr": "datum.value % 120 === 0 ? ((floor(datum.value/60) % 24) < 10 ? '0' : '') + (floor(datum.value/60) % 24) + ':00' : ''",
        "tickSize": {"condition": {"test": "datum.value % 120 === 0", "value": 5}, "value": 3},
        "tickColor": "#000000",
        "domain": false,
        "grid": false,
        "offset": 3,
        "labelOverlap": false,
        "labelFlush": false,
        "labelFontSize": 12,
        "labelColor": "#101030",
        "labelPadding": 2,
        "title": "Time",
        "titleFontSize": 12,
        "titleFontWeight": "normal",
        "titleColor": "#000000",
        "titlePadding": 5
      }
    },
    "y": {
      "field": "value", "type": "quantitative",
      "scale": {"domain": [-2, 14], "nice": false, "zero": false},
      "axis": {
        "values": [-2, 0, 2, 4, 6, 8, 10, 12, 14],
        "tickSize": 4,
        "tickColor": "#000000",
        "domainColor": "#000000",
        "domainWidth": 1.5,
        "grid": false,
        "labelFontSize": 12,
        "labelColor": "#101030",
        "labelPadding": 2,
        "title": "NOx Concentration (ppb)",
        "titleFontSize": 12,
        "titleFontWeight": "normal",
        "titleColor": "#000000",
        "titlePadding": 6
      }
    },
    "color": {
      "field": "series", "type": "nominal",
      "scale": {"domain": ["NO", "NO2", "NOx"], "range": ["#000000", "#ff4646", "#22ee00"]},
      "legend": {
        "orient": "none",
        "legendX": 667,
        "legendY": -79,
        "title": null,
        "symbolType": "M-1.45,-0.85H1.45V0.85H-1.45Z M-1.1,0.45L-0.4,-0.55L0.3,0.45L1.1,-0.55",
        "symbolSize": 400,
        "symbolStrokeWidth": 1,
        "symbolOffset": 35.5,
        "labelOffset": -54,
        "labelFontSize": 13,
        "labelColor": "#101030",
        "rowPadding": 2,
        "padding": 4,
        "strokeColor": "#000000",
        "fillColor": "#ffffff"
      }
    }
  }
}
